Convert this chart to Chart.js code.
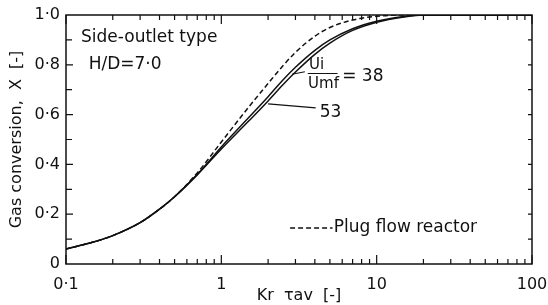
<!DOCTYPE html>
<html>
<head>
<meta charset="utf-8">
<script src="https://cdn.jsdelivr.net/npm/chart.js@4.4.0/dist/chart.umd.min.js"></script>
<style>
  body { margin: 0; background: #fff; }
  canvas { display: block; }
</style>
</head>
<body>
<canvas id="chart" width="548" height="305"></canvas>
<script>
// Kr * tau_av values where the curves were read
const krTau = [0.1, 0.15, 0.2, 0.3, 0.4, 0.5, 0.7, 1, 1.5, 2, 2.5, 3, 4, 5, 7, 10, 15, 20, 100];

// gas conversion X
const plugFlow = [0.06, 0.088, 0.114, 0.166, 0.22, 0.27, 0.366, 0.49, 0.63, 0.725, 0.797, 0.85, 0.915, 0.95, 0.98, 0.995, 1.0, 1.0, 1.0];
const ratio38 = [0.06, 0.088, 0.114, 0.166, 0.22, 0.27, 0.36, 0.47, 0.588, 0.672, 0.74, 0.79, 0.858, 0.9, 0.945, 0.975, 0.994, 1.0, 1.0];
const ratio53 = [0.06, 0.088, 0.114, 0.166, 0.22, 0.27, 0.358, 0.462, 0.574, 0.655, 0.721, 0.771, 0.842, 0.887, 0.938, 0.971, 0.992, 1.0, 1.0];

const xTicks = [0.1, 1, 10, 100];
const yTicks = [0, 0.2, 0.4, 0.6, 0.8, 1.0];

const FONT = "'DejaVu Sans', Arial, sans-serif";
const INK = "#111";

const toPoints = (ys) => ys.map((y, i) => ({ x: krTau[i], y }));
const dotNum = (v) => (v === 0 ? "0" : v.toFixed(1).replace(".", "·"));

const line = (label, ys, dash) => ({
    label,
    data: toPoints(ys),
    showLine: true,
    borderColor: INK,
    borderWidth: 1.5,
    borderDash: dash,
    pointRadius: 0,
    cubicInterpolationMode: "monotone",
});

// inward ticks on all four sides, frame and the labels inside the plot
const decor = {
    id: "decor",
    afterDatasetsDraw(chart) {
        const { ctx, chartArea: a, scales } = chart;
        const xs = scales.x, ys = scales.y;
        ctx.save();
        ctx.strokeStyle = INK;
        ctx.lineWidth = 1.5;
        ctx.strokeRect(a.left, a.top, a.right - a.left, a.bottom - a.top);

        ctx.lineWidth = 1.2;
        ctx.beginPath();
        for (let d = 0.1; d < 100; d *= 10) {
            for (let m = 1; m <= 10; m++) {
                const px = xs.getPixelForValue(d * m);
                const len = m === 1 || m === 10 ? 9 : 5;
                ctx.moveTo(px, a.bottom); ctx.lineTo(px, a.bottom - len);
                ctx.moveTo(px, a.top); ctx.lineTo(px, a.top + len);
            }
        }
        for (let i = 1; i < 10; i++) {
            const py = ys.getPixelForValue(i / 10);
            ctx.moveTo(a.left, py); ctx.lineTo(a.left + (i % 2 === 0 ? 7 : 6), py);
            ctx.moveTo(a.right, py); ctx.lineTo(a.right - 4, py);
        }
        ctx.stroke();

        const P = (x, y) => [xs.getPixelForValue(x), ys.getPixelForValue(y)];
        ctx.fillStyle = INK;
        ctx.font = "17px " + FONT;
        ctx.textBaseline = "middle";
        ctx.textAlign = "left";
        ctx.fillText("Side-outlet type", ...P(0.125, 0.91));
        ctx.fillText("H/D=7·0", ...P(0.14, 0.8));

        // Ui / Umf = 38
        ctx.font = "15px " + FONT;
        ctx.textAlign = "center";
        ctx.fillText("Ui", ...P(4.1, 0.797));
        ctx.fillText("Umf", ...P(4.55, 0.724));
        ctx.font = "17px " + FONT;
        ctx.textAlign = "left";
        ctx.fillText("= 38", ...P(6.0, 0.752));
        ctx.fillText("53", ...P(4.3, 0.61));
        ctx.fillText("Plug flow reactor", ...P(5.3, 0.145));

        ctx.lineWidth = 1.2;
        ctx.beginPath();
        ctx.moveTo(...P(3.6, 0.765)); ctx.lineTo(...P(5.6, 0.765));
        ctx.moveTo(...P(2.85, 0.762)); ctx.lineTo(...P(3.45, 0.772));
        ctx.moveTo(...P(2.0, 0.643)); ctx.lineTo(...P(4.05, 0.627));
        ctx.stroke();

        ctx.lineWidth = 1.5;
        ctx.setLineDash([5, 3]);
        ctx.beginPath();
        ctx.moveTo(...P(2.77, 0.145)); ctx.lineTo(...P(5.2, 0.145));
        ctx.stroke();
        ctx.restore();
    },
};

new Chart(document.getElementById("chart"), {
    type: "scatter",
    data: {
        datasets: [
            line("Plug flow reactor", plugFlow, [5, 3]),
            line("Ui/Umf = 38", ratio38, []),
            line("Ui/Umf = 53", ratio53, []),
        ],
    },
    options: {
        responsive: false,
        animation: false,
        layout: { padding: { top: 15, right: 16, left: 0, bottom: 0 } },
        plugins: { legend: { display: false }, tooltip: { enabled: false } },
        scales: {
            x: {
                type: "logarithmic",
                min: 0.1,
                max: 100,
                afterBuildTicks: (s) => { s.ticks = xTicks.map((value) => ({ value })); },
                afterFit: (s) => { s.height = 41; s.paddingLeft = 0; s.paddingRight = 0; },
                grid: { display: false, drawTicks: false },
                border: { display: false },
                ticks: {
                    color: INK,
                    padding: 11,
                    maxRotation: 0,
                    autoSkip: false,
                    font: { family: FONT, size: 16 },
                    callback: (v) => (v === 0.1 ? "0·1" : String(v)),
                },
                title: {
                    display: true,
                    text: "Kr  τav  [-]",
                    color: INK,
                    padding: { top: 0, bottom: 0 },
                    font: { family: FONT, size: 16 },
                },
            },
            y: {
                min: 0,
                max: 1,
                afterBuildTicks: (s) => { s.ticks = yTicks.map((value) => ({ value })); },
                afterFit: (s) => { s.width = 66; s.paddingTop = 0; s.paddingBottom = 0; },
                grid: { display: false, drawTicks: false },
                border: { display: false },
                ticks: {
                    color: INK,
                    padding: 6,
                    font: { family: FONT, size: 16 },
                    callback: (v) => dotNum(v),
                },
                title: {
                    display: true,
                    text: "Gas conversion,  X  [-]",
                    color: INK,
                    padding: { top: 7, bottom: 0 },
                    font: { family: FONT, size: 16 },
                },
            },
        },
    },
    plugins: [decor],
});
</script>
</body>
</html>
